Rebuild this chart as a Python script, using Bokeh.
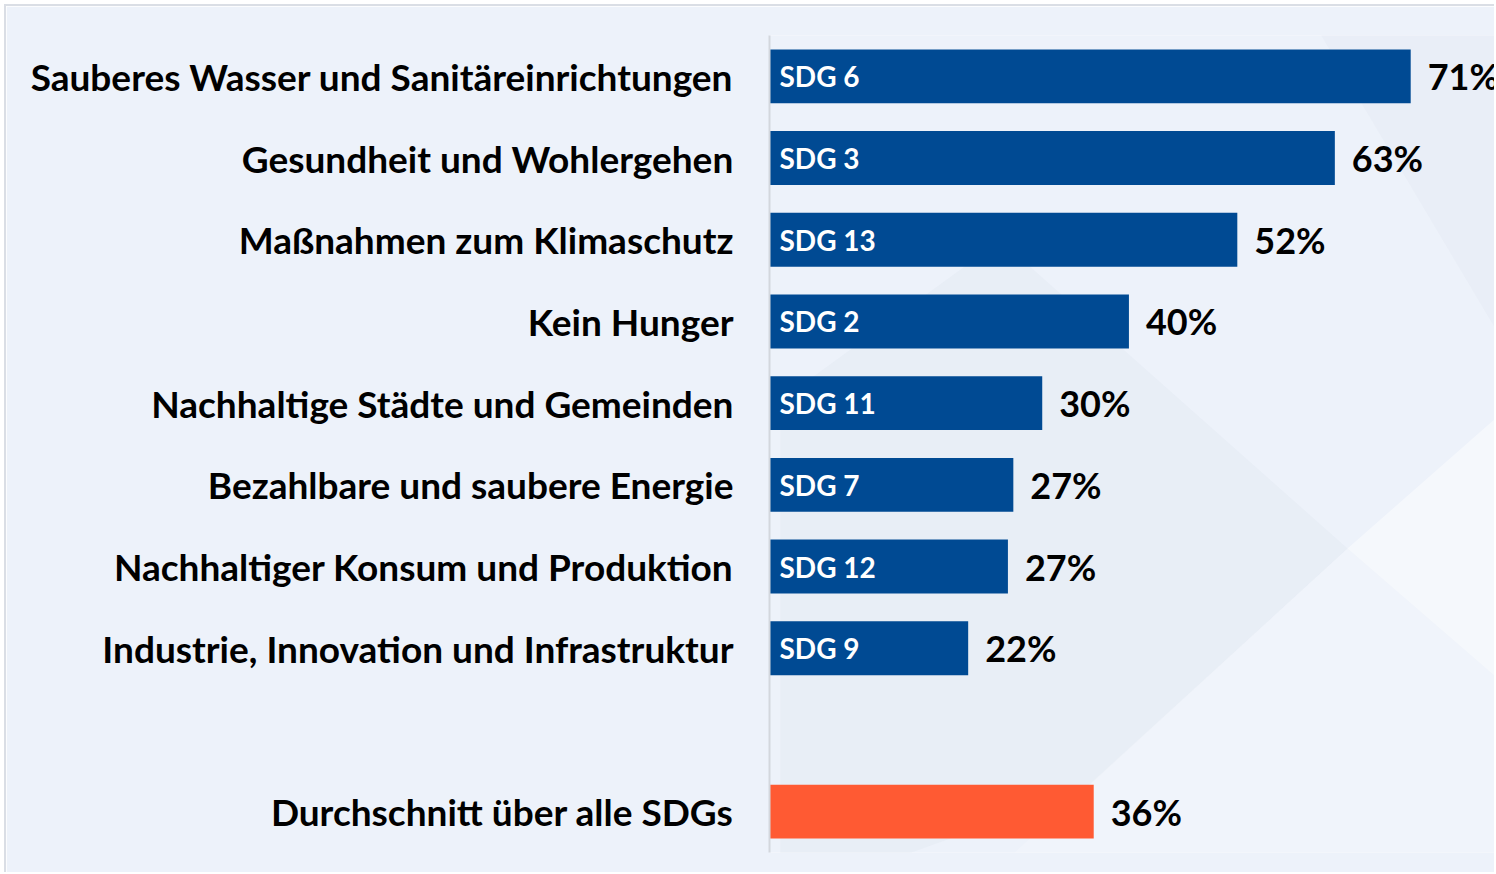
from bokeh.plotting import figure
from bokeh.models import ColumnDataSource, Range1d, FixedTicker, PolyAnnotation
from bokeh.core.properties import value
from bokeh.embed import file_html
from bokeh.resources import INLINE

# ---- data ----
categories = [
    "Sauberes Wasser und Sanitäreinrichtungen",
    "Gesundheit und Wohlergehen",
    "Maßnahmen zum Klimaschutz",
    "Kein Hunger",
    "Nachhaltige Städte und Gemeinden",
    "Bezahlbare und saubere Energie",
    "Nachhaltiger Konsum und Produktion",
    "Industrie, Innovation und Infrastruktur",
]
sdg_codes = ["SDG 6", "SDG 3", "SDG 13", "SDG 2", "SDG 11", "SDG 7", "SDG 12", "SDG 9"]
values = [71.0, 62.6, 51.8, 39.8, 30.2, 27.0, 26.4, 22.0]
value_labels = ["71%", "63%", "52%", "40%", "30%", "27%", "27%", "22%"]
avg_category = "Durchschnitt über alle SDGs"
avg_value = 35.9
avg_label = "36%"

FONT = "Lato"
NAVY = "#004a93"
ORANGE = "#ff5a33"
BG = "#edf2fa"

OFF = 6  # card content starts 6px into the page (4px margin + 2px border)
W, H = 1496 - OFF, 874 - OFF
FRAME_L, FRAME_T, FRAME_B = 769, 35, 852  # page coordinates of the plotting frame

ypos = list(range(len(categories)))
avg_pos = len(categories) + 1

p = figure(width=W, height=H, output_backend="svg", toolbar_location=None,
           x_range=Range1d(0, 80.5), y_range=Range1d(avg_pos + 0.5, -0.5),
           min_border_left=FRAME_L - OFF, min_border_right=0,
           min_border_top=FRAME_T - OFF, min_border_bottom=874 - FRAME_B)
p.background_fill_color = BG
p.border_fill_color = BG
p.outline_line_color = None
p.grid.visible = False
p.xaxis.visible = False
p.styles = {"margin-left": "4px", "margin-top": "4px",
            "border-top": "2px solid #dadee5", "border-left": "2px solid #dadee5"}

# background decoration (purely decorative, screen units relative to the frame)
def deco(pts, color, alpha):
    xs = [x - FRAME_L for x, _ in pts]
    ys = [FRAME_B - y for _, y in pts]
    p.add_layout(PolyAnnotation(xs=xs, ys=ys, xs_units="screen", ys_units="screen",
                                fill_color=color, fill_alpha=alpha, line_color=None, level="underlay"))

deco([(1000, 240), (1347, 548), (1083, 790), (850, 874), (780, 874), (780, 400)], "#d8dfea", 0.22)
deco([(1347, 548), (1496, 417), (1496, 677)], "#ffffff", 0.45)
deco([(1347, 548), (1496, 677), (1496, 874), (990, 874)], "#ffffff", 0.2)
deco([(1300, 0), (1496, 0), (1496, 330)], "#d8dfea", 0.18)

src = ColumnDataSource(dict(y=ypos, v=values, code=sdg_codes, lab=value_labels))
p.hbar(y="y", left=0, right="v", height=0.66, source=src, fill_color=NAVY, line_color=None)
p.hbar(y=[avg_pos], left=0, right=[avg_value], height=0.66, fill_color=ORANGE, line_color=None)

p.text(x=0, y="y", text="code", source=src, x_offset=10, text_color="white",
       text_font=value(FONT), text_font_style="bold", text_font_size="28px",
       text_baseline="middle", text_align="left")
p.text(x="v", y="y", text="lab", source=src, x_offset=17, text_color="black",
       text_font=value(FONT), text_font_style="bold", text_font_size="36px",
       text_baseline="middle", text_align="left")
p.text(x=[avg_value], y=[avg_pos], text=[avg_label], x_offset=17, text_color="black",
       text_font=value(FONT), text_font_style="bold", text_font_size="36px",
       text_baseline="middle", text_align="left")

ax = p.yaxis[0]
ax.ticker = FixedTicker(ticks=ypos + [avg_pos])
ax.major_label_overrides = {**{i: c for i, c in zip(ypos, categories)}, avg_pos: avg_category}
ax.major_label_text_font = FONT
ax.major_label_text_font_style = "bold"
ax.major_label_text_font_size = "37px"
ax.major_label_text_color = "black"
ax.major_label_standoff = 36
ax.major_tick_out = 0
ax.major_tick_in = 0
ax.major_tick_line_color = None
ax.minor_tick_line_color = None
ax.axis_line_color = "#d3d7dd"
ax.axis_line_width = 2

open("out.html", "w").write(file_html(p, INLINE))
